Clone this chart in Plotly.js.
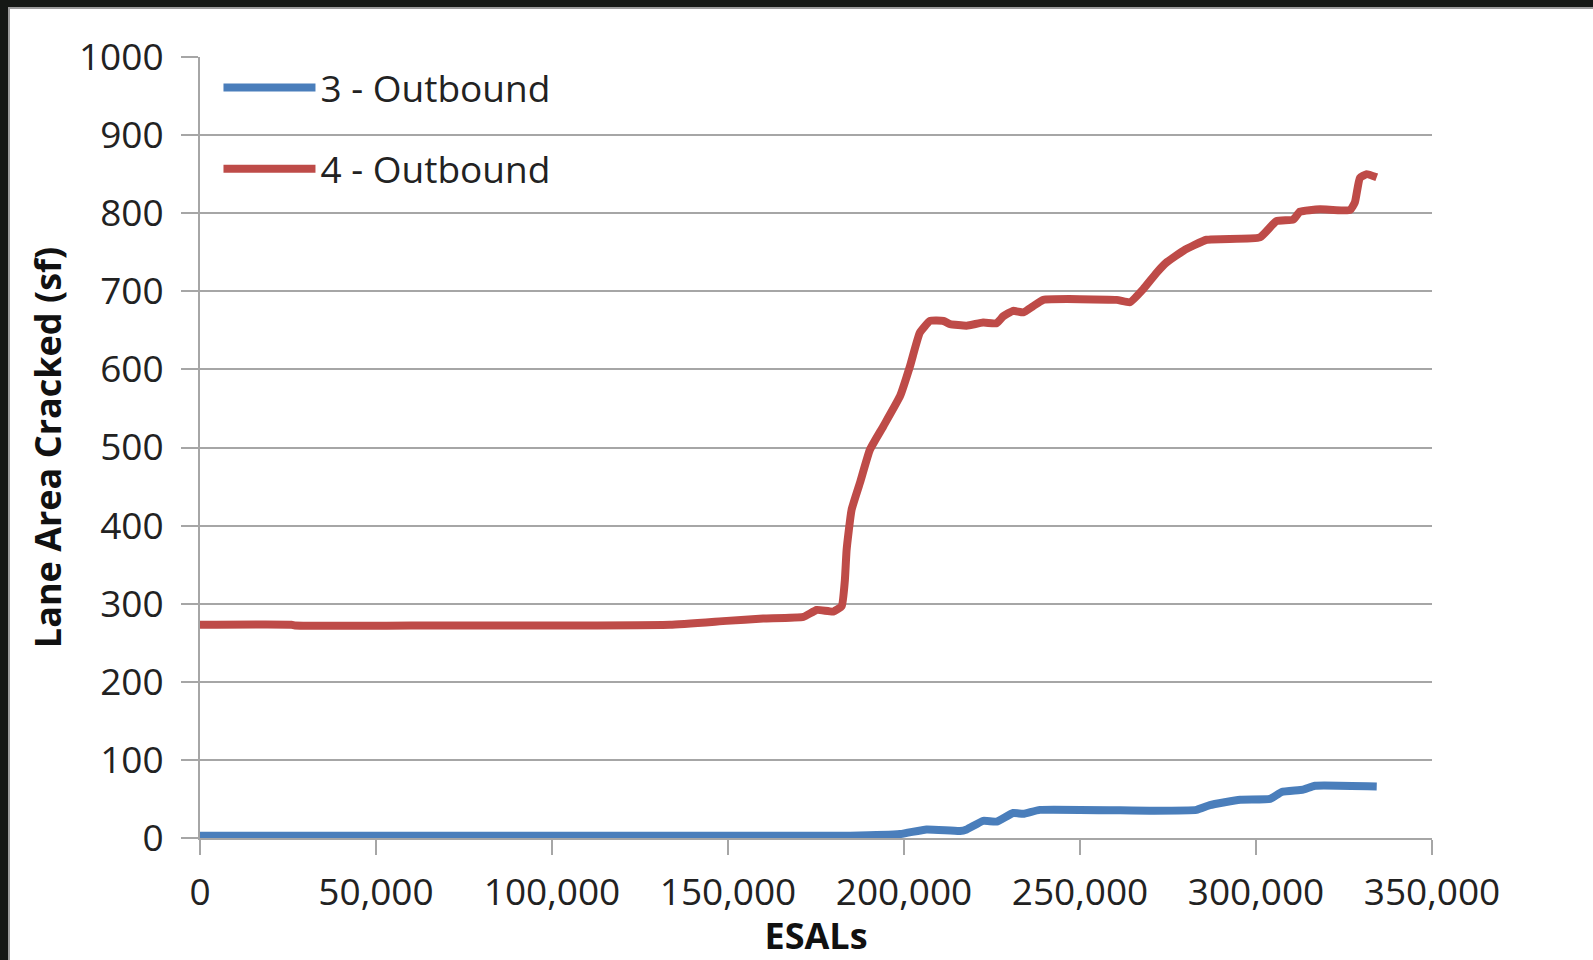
<!DOCTYPE html>
<html>
<head>
<meta charset="utf-8">
<script src="https://cdn.plot.ly/plotly-3.0.1.min.js"></script>
<style>
  html, body { margin: 0; padding: 0; background: #151815; width: 1593px; height: 960px; overflow: hidden; }
  #frame { position: absolute; left: 8px; top: 7px; border-left: 2px solid #9c9c9c; border-top: 2px solid #9c9c9c; background: #fff; }
  #chart { width: 1583px; height: 951px; }
</style>
</head>
<body>
<div id="frame"><div id="chart"></div></div>
<script>
// ESAL counts and lane area cracked (sf) for each section
const seriesNames = ['3 - Outbound', '4 - Outbound'];

const esals3 = [0, 184700, 198900, 206400, 215900, 217800, 222500, 226300, 231000, 233900,
  238600, 269900, 283100, 286900, 295500, 304000, 307300, 313400, 316800, 334300];
const cracked3 = [3, 3, 5, 11, 9, 11, 22, 21, 32, 31,
  36, 35, 36, 42, 49, 50, 59, 62, 67, 66];

const esals4 = [0, 26000, 27000, 60000, 102000, 133500, 149600, 160000, 171400, 175200,
  179900, 182300, 183200, 183700, 185100, 187500, 190300, 194100, 198900, 201700,
  204500, 207400, 211200, 213100, 217800, 222500, 226300, 228200, 231000, 233900,
  236700, 239600, 260400, 264200, 268000, 271800, 274600, 279400, 286000, 301100,
  305800, 310600, 312500, 318200, 326700, 328100, 329500, 331400, 334300];
const cracked4 = [273, 273, 272, 272, 272, 273, 278, 281, 283, 292,
  290, 297, 330, 369, 420, 455, 497, 527, 566, 604,
  647, 662, 662, 658, 656, 660, 659, 668, 675, 673,
  681, 689, 689, 686, 703, 724, 737, 752, 766, 769,
  790, 792, 802, 805, 804, 814, 845, 850, 846];

const xTicks = [0, 50000, 100000, 150000, 200000, 250000, 300000, 350000];
const yTicks = [0, 100, 200, 300, 400, 500, 600, 700, 800, 900, 1000];

const colors = ['#4a7ebb', '#be4b48'];
const axisGray = '#a6a6a6';

const traces = [
  { x: esals3, y: cracked3, name: seriesNames[0], legendgroup: 'a' },
  { x: esals4, y: cracked4, name: seriesNames[1], legendgroup: 'b' }
].map((t, i) => Object.assign(t, {
  type: 'scatter',
  mode: 'lines',
  line: { color: colors[i], width: 8, shape: 'spline', smoothing: 0.4 },
  hoverinfo: 'skip'
}));

const layout = {
  width: 1583,
  height: 951,
  margin: { l: 190, r: 161, t: 48, b: 122 },
  paper_bgcolor: '#ffffff',
  plot_bgcolor: '#ffffff',
  font: { family: '"Open Sans", sans-serif', size: 37, color: '#222222' },
  showlegend: true,
  legend: {
    x: 0.015, y: 1.0, xanchor: 'left', yanchor: 'top',
    bgcolor: 'rgba(0,0,0,0)',
    itemwidth: 92,
    traceorder: 'grouped',
    tracegroupgap: 30,
    font: { size: 37, color: '#222222' }
  },
  xaxis: {
    range: [0, 350000],
    tickvals: xTicks,
    tickformat: ',d',
    showgrid: false,
    zeroline: false,
    showline: true,
    linecolor: axisGray,
    linewidth: 2,
    ticks: 'outside',
    ticklen: 15,
    tickwidth: 2,
    tickcolor: axisGray,
    ticklabelstandoff: 6,
    automargin: true,
    title: { text: 'ESALs', font: { size: 36, weight: 700, color: '#111111' }, standoff: 0 }
  },
  yaxis: {
    range: [0, 1000],
    tickvals: yTicks,
    showgrid: true,
    gridcolor: axisGray,
    gridwidth: 2,
    zeroline: false,
    showline: true,
    linecolor: axisGray,
    linewidth: 2,
    ticks: 'outside',
    ticklen: 17,
    tickwidth: 2,
    tickcolor: axisGray,
    ticklabelstandoff: 10,
    automargin: true,
    title: { text: 'Lane Area Cracked (sf)', font: { size: 36, weight: 700, color: '#111111' }, standoff: 6 }
  }
};

Plotly.newPlot('chart', traces, layout, { staticPlot: true, displayModeBar: false });
</script>
</body>
</html>
